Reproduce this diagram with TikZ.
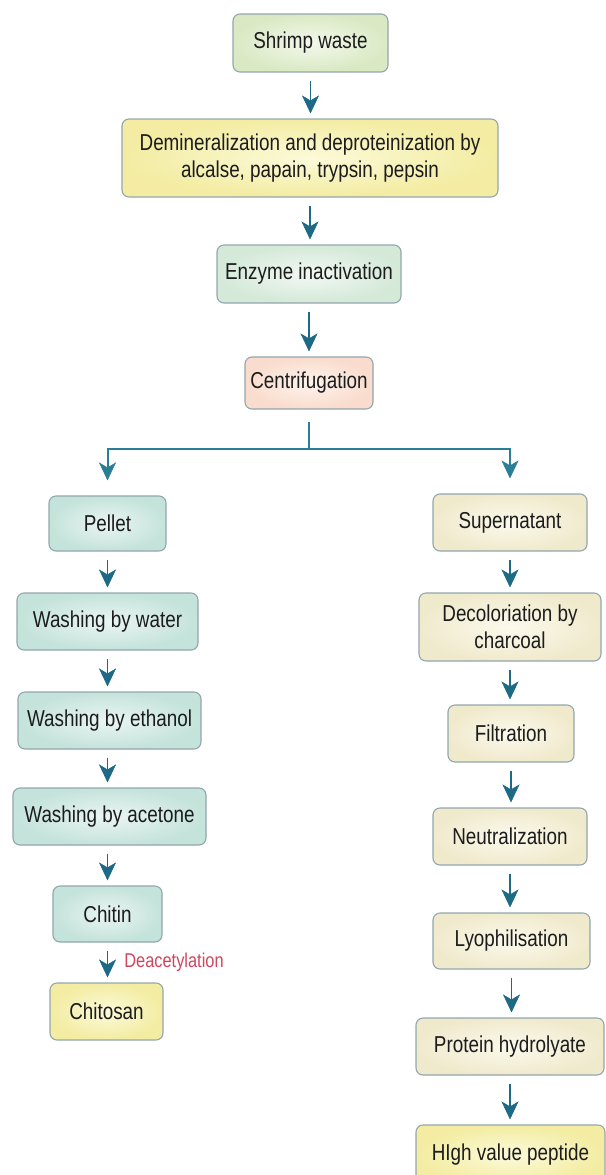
\documentclass[tikz,border=0pt]{standalone}
\usepackage{fontspec}
\setmainfont{Liberation Sans}[FakeStretch=0.82]
\usetikzlibrary{arrows.meta}
\definecolor{bordercol}{HTML}{93A6AD}
\definecolor{arrowcol}{HTML}{1D6A87}
\definecolor{treecol}{HTML}{2A7E96}
\definecolor{textcol}{HTML}{1C1C1C}
\definecolor{labelred}{HTML}{D0465E}
\definecolor{greenout}{HTML}{DAE9C4}
\definecolor{greenin}{HTML}{F3F8EB}
\definecolor{tealout}{HTML}{C4E3DA}
\definecolor{tealin}{HTML}{EAF5F2}
\definecolor{creamout}{HTML}{F0EACD}
\definecolor{creamin}{HTML}{FBF9EC}
\definecolor{peachout}{HTML}{F9DCCD}
\definecolor{peachin}{HTML}{FEF3ED}
\definecolor{yellowout}{HTML}{F3ECA2}
\definecolor{yellowin}{HTML}{FCFAD9}
\definecolor{mintout}{HTML}{D4E9D8}
\definecolor{mintin}{HTML}{F2F8F3}
\tikzset{
  box/.style={draw=bordercol, line width=1.1pt, rounded corners=7pt, inner sep=0pt,
    align=center, text=textcol, font=\fontsize{23}{27}\selectfont},
  fgreen/.style={inner color=greenin, outer color=greenout},
  fyellow/.style={inner color=yellowin, outer color=yellowout},
  fmint/.style={inner color=mintin, outer color=mintout},
  fpeach/.style={inner color=peachin, outer color=peachout},
  fteal/.style={inner color=tealin, outer color=tealout},
  fcream/.style={inner color=creamin, outer color=creamout},
  headtip/.style={-{Stealth[length=18pt,width=17pt,inset=5pt,line width=0.5pt]}},
  arr/.style={draw=arrowcol, line width=1.6pt, headtip, shorten <=8pt, shorten >=5pt},
  tline/.style={draw=treecol, line width=2pt},
  redlabel/.style={text=labelred, inner sep=0pt, font=\fontsize{20}{24}\selectfont}
}
\begin{document}
\begin{tikzpicture}[x=1pt,y=-1pt]
\useasboundingbox (0,0) rectangle (605,1175);
\fill[white] (0,0) rectangle (605,1175);
% main column
\node[box,fgreen,minimum width=155,minimum height=58] (shrimp) at (310.5,43) {Shrimp waste};
\node[box,fyellow,minimum width=376,minimum height=78] (dem) at (310,158) {Demineralization and deproteinization by\\alcalse, papain, trypsin, pepsin};
\node[box,fmint,minimum width=184,minimum height=58] (enz) at (309,274) {Enzyme inactivation};
\node[box,fpeach,minimum width=128,minimum height=52] (centr) at (309,383) {Centrifugation};
% left column
\node[box,fteal,minimum width=117,minimum height=55] (pellet) at (107.5,523.5) {Pellet};
\node[box,fteal,minimum width=181,minimum height=57] (water) at (107.5,621.5) {Washing by water};
\node[box,fteal,minimum width=183,minimum height=57] (ethanol) at (109.5,720.5) {Washing by ethanol};
\node[box,fteal,minimum width=193,minimum height=57] (acetone) at (109.5,816.5) {Washing by acetone};
\node[box,fteal,minimum width=109,minimum height=56] (chitin) at (107.5,914) {Chitin};
\node[box,fyellow,minimum width=113,minimum height=57] (chitosan) at (106.5,1011.5) {Chitosan};
% right column
\node[box,fcream,minimum width=154,minimum height=57] (super) at (510,522.5) {Supernatant};
\node[box,fcream,minimum width=182,minimum height=68] (decol) at (510,627) {Decoloriation by\\charcoal};
\node[box,fcream,minimum width=126,minimum height=57] (filt) at (511,733.5) {Filtration};
\node[box,fcream,minimum width=154,minimum height=57] (neut) at (510,836.5) {Neutralization};
\node[box,fcream,minimum width=157,minimum height=56] (lyo) at (511.5,941) {Lyophilisation};
\node[box,fcream,minimum width=188,minimum height=57] (prot) at (510,1046.5) {Protein hydrolyate};
\node[box,fyellow,minimum width=189,minimum height=60] (high) at (510.5,1155) {HIgh value peptide};
% arrows main
\draw[arr] (shrimp.south) -- (shrimp.south |- dem.north);
\draw[arr] (dem.south) -- (dem.south |- enz.north);
\draw[arr] (enz.south) -- (enz.south |- centr.north);
% tree
\coordinate (split) at (309,449);
\draw[tline, shorten <=12pt] (centr.south) -- (split);
\draw[tline, headtip, shorten >=15pt] (split) -| (pellet.north);
\draw[tline, headtip, shorten >=15pt] (split) -| (super.north);
% left arrows
\draw[arr] (pellet.south) -- (pellet.south |- water.north);
\draw[arr] (water.south) -- (water.south |- ethanol.north);
\draw[arr] ([xshift=-2pt]ethanol.south) -- ([xshift=-2pt]ethanol.south |- acetone.north);
\draw[arr] ([xshift=-2pt]acetone.south) -- ([xshift=-2pt]acetone.south |- chitin.north);
\draw[arr] (chitin.south) -- (chitin.south |- chitosan.north)
  node[midway, right=16pt, redlabel, anchor=west] {Deacetylation};
% right arrows
\draw[arr] (super.south) -- (super.south |- decol.north);
\draw[arr] (decol.south) -- (decol.south |- filt.north);
\draw[arr] (filt.south) -- (filt.south |- neut.north);
\draw[arr] (neut.south) -- (neut.south |- lyo.north);
\draw[arr] (lyo.south) -- (lyo.south |- prot.north);
\draw[arr] (prot.south) -- (prot.south |- high.north);
\end{tikzpicture}
\end{document}
